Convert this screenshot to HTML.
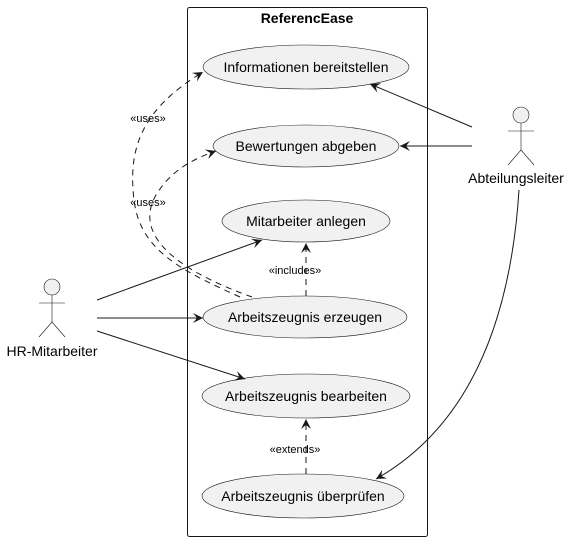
<!DOCTYPE html>
<html><head><meta charset="utf-8"><style>
html,body{margin:0;padding:0;background:#fff}
text{font-family:"Liberation Sans",sans-serif;fill:#000}
</style></head><body>
<svg width="577" height="541" viewBox="0 0 577 541">
<defs>
<marker id="ar" markerWidth="12" markerHeight="10" refX="10" refY="5" orient="auto" markerUnits="userSpaceOnUse">
<path d="M0,0 L10,5 L0,10 L4,5 Z" fill="#181818"/>
</marker>
</defs>
<rect x="187.5" y="7.5" width="240" height="529" rx="2" fill="none" stroke="#181818" stroke-width="1"/>
<text x="307" y="23" font-size="14" font-weight="bold" text-anchor="middle">ReferencEase</text>

<g fill="#f1f1f1" stroke="#181818" stroke-width="0.6">
<ellipse cx="306" cy="67" rx="103" ry="22"/>
<ellipse cx="306" cy="146" rx="93" ry="21"/>
<ellipse cx="306" cy="221" rx="84" ry="21"/>
<ellipse cx="305" cy="317" rx="102" ry="21"/>
<ellipse cx="306" cy="396" rx="104" ry="22"/>
<ellipse cx="303" cy="496" rx="101" ry="22"/>
</g>
<g font-size="14" text-anchor="middle">
<text x="306" y="72">Informationen bereitstellen</text>
<text x="306" y="151">Bewertungen abgeben</text>
<text x="306" y="226">Mitarbeiter anlegen</text>
<text x="305" y="322">Arbeitszeugnis erzeugen</text>
<text x="306" y="401">Arbeitszeugnis bearbeiten</text>
<text x="303" y="501">Arbeitszeugnis überprüfen</text>
</g>

<g fill="none" stroke="#181818" stroke-width="1">
<line x1="97" y1="300" x2="262" y2="240" marker-end="url(#ar)"/>
<line x1="97" y1="318" x2="203" y2="318" marker-end="url(#ar)"/>
<line x1="97" y1="331" x2="245" y2="379" marker-end="url(#ar)"/>
<line x1="472" y1="127" x2="370" y2="84" marker-end="url(#ar)"/>
<line x1="472" y1="146" x2="400" y2="146" marker-end="url(#ar)"/>
<path d="M519,190 C512,300 480,420 376,479" marker-end="url(#ar)"/>
</g>
<g fill="none" stroke="#181818" stroke-width="1" stroke-dasharray="6,5">
<path d="M240,297 C180,270 140,250 134,200 C128,150 140,110 203,72" marker-end="url(#ar)"/>
<path d="M252,297 C190,275 130,240 156,195 C170,172 190,160 216,151" marker-end="url(#ar)"/>
<line x1="306" y1="296" x2="306" y2="243" marker-end="url(#ar)"/>
<line x1="306" y1="474" x2="306" y2="419" marker-end="url(#ar)"/>
</g>
<g font-size="11" text-anchor="middle">
<text x="148" y="122">«uses»</text>
<text x="148" y="206">«uses»</text>
<text x="295" y="274">«includes»</text>
<text x="295" y="453">«extends»</text>
</g>

<g fill="none" stroke="#181818" stroke-width="0.6">
<circle cx="521" cy="115" r="8" fill="#f1f1f1"/>
<line x1="521" y1="123" x2="521" y2="150"/>
<line x1="508" y1="131" x2="534" y2="131"/>
<path d="M508,165 L521,150 L534,165"/>
</g>
<text x="516" y="183" font-size="14" text-anchor="middle">Abteilungsleiter</text>
<g fill="none" stroke="#181818" stroke-width="0.6">
<circle cx="52" cy="287" r="8" fill="#f1f1f1"/>
<line x1="52" y1="295" x2="52" y2="322"/>
<line x1="39" y1="303" x2="65" y2="303"/>
<path d="M39,337 L52,322 L65,337"/>
</g>
<text x="52" y="356" font-size="14" text-anchor="middle">HR-Mitarbeiter</text>
</svg>
</body></html>
